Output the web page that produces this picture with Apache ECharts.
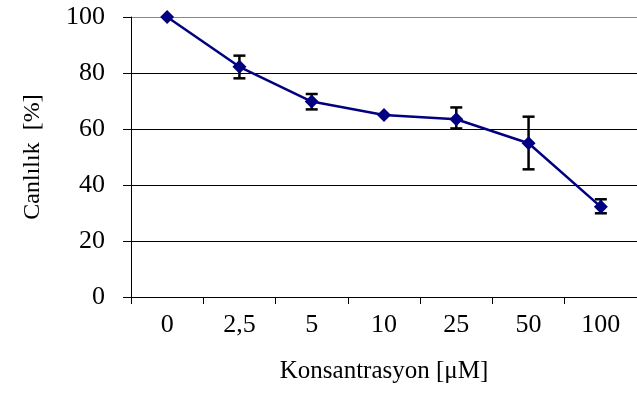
<!DOCTYPE html>
<html>
<head>
<meta charset="utf-8">
<script src="https://cdn.jsdelivr.net/npm/echarts@6/dist/echarts.min.js"></script>
<style>
  html, body { margin: 0; padding: 0; background: #fff; }
  #chart { width: 637px; height: 394px; }
</style>
</head>
<body>
<div id="chart"></div>
<script>
// konsantrasyon kategorileri
const concentrations = ['0', '2,5', '5', '10', '25', '50', '100'];
const viability = [100, 82.2, 69.8, 65, 63.5, 54.9, 32.2];
const errLow  = [100, 78.1, 67, 65, 60.2, 45.6, 29.9];
const errHigh = [100, 86.2, 72.5, 65, 67.7, 64.4, 34.9];
const yTicks = [0, 20, 40, 60, 80, 100];

const font = 'Liberation Serif, Times New Roman, serif';
const chart = echarts.init(document.getElementById('chart'));

const errData = concentrations.map((c, i) => [i, errLow[i], errHigh[i]]);

const option = {
  animation: false,
  grid: { left: 131, top: 17, width: 511, height: 280 },
  xAxis: {
    type: 'category',
    data: concentrations,
    boundaryGap: true,
    axisLine: { lineStyle: { color: '#000', width: 1 } },
    axisTick: { show: true, length: 7, lineStyle: { color: '#000' } },
    axisLabel: { color: '#000', fontFamily: font, fontSize: 26, margin: 15 },
    name: 'Konsantrasyon [μM]',
    nameLocation: 'middle',
    nameGap: 62,
    nameTextStyle: { color: '#000', fontFamily: font, fontSize: 25 },
    splitLine: { show: false }
  },
  yAxis: {
    type: 'value',
    min: yTicks[0],
    max: yTicks[yTicks.length - 1],
    interval: 20,
    axisLine: { show: true, lineStyle: { color: '#000', width: 1 } },
    axisTick: { show: true, length: 8, lineStyle: { color: '#000' } },
    axisLabel: { color: '#000', fontFamily: font, fontSize: 26, margin: 26 },
    splitLine: { show: true, lineStyle: { color: ['#000', '#000', '#000', '#000', '#000', '#888'], width: 1 } },
    name: 'Canlılık  [%]',
    nameLocation: 'middle',
    nameGap: 86,
    nameTextStyle: { color: '#000', fontFamily: font, fontSize: 24 }
  },
  series: [
    {
      type: 'custom',
      data: errData,
      z: 3,
      renderItem: function (params, api) {
        const x = api.value(0);
        const lo = api.coord([x, api.value(1)]);
        const hi = api.coord([x, api.value(2)]);
        if (Math.abs(lo[1] - hi[1]) < 1) return null;
        const w = 6;
        const style = { stroke: '#000', lineWidth: 2.5 };
        return {
          type: 'group',
          children: [
            { type: 'line', shape: { x1: hi[0], y1: hi[1], x2: lo[0], y2: lo[1] }, style: style },
            { type: 'line', shape: { x1: hi[0] - w, y1: hi[1], x2: hi[0] + w, y2: hi[1] }, style: style },
            { type: 'line', shape: { x1: lo[0] - w, y1: lo[1], x2: lo[0] + w, y2: lo[1] }, style: style }
          ]
        };
      }
    },
    {
      type: 'line',
      data: viability,
      z: 4,
      symbol: 'diamond',
      symbolSize: 14,
      lineStyle: { color: '#000080', width: 2.5 },
      itemStyle: { color: '#000080' }
    }
  ]
};

chart.setOption(option);
</script>
</body>
</html>
